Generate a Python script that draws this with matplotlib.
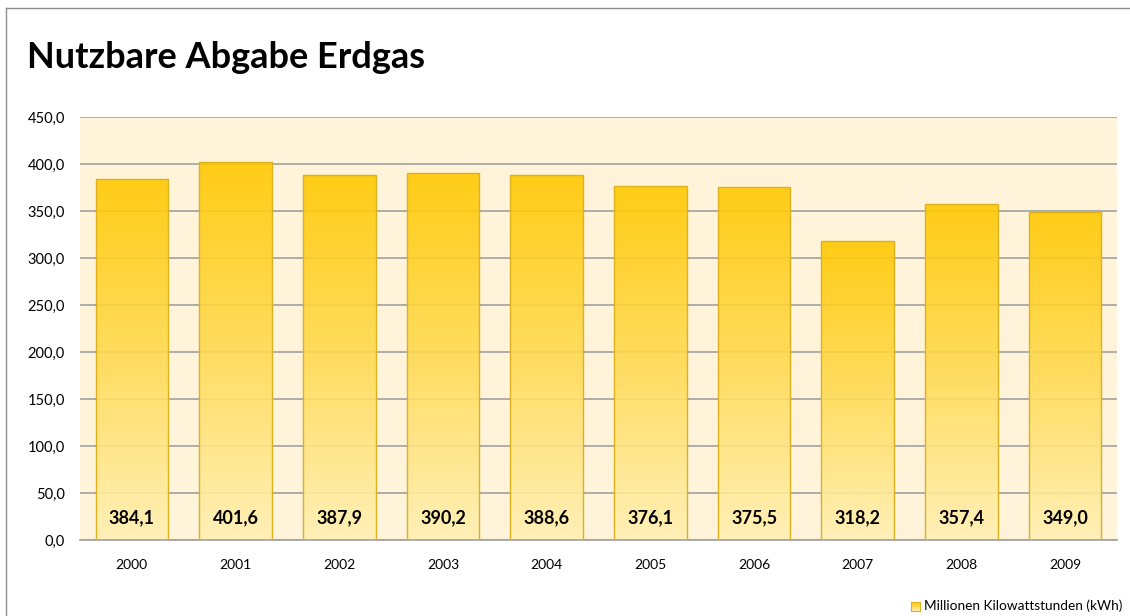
import numpy as np
import matplotlib.pyplot as plt
from matplotlib.lines import Line2D
from matplotlib.colors import LinearSegmentedColormap

years = ['2000', '2001', '2002', '2003', '2004', '2005', '2006', '2007', '2008', '2009']
values = [384.1, 401.6, 387.9, 390.2, 388.6, 376.1, 375.5, 318.2, 357.4, 349.0]
title = 'Nutzbare Abgabe Erdgas'
legend_label = 'Millionen Kilowattstunden (kWh)'

plt.rcParams['font.family'] = ['Lato', 'DejaVu Sans']

W, H = 1130, 616
fig = plt.figure(figsize=(W / 100, H / 100), dpi=100)
fig.patch.set_facecolor('white')

# outer frame: only left and top edges fall inside the picture
fx, fy = 5.5 / W, 1 - 7.5 / H
fig.add_artist(Line2D([fx, fx], [0, fy], transform=fig.transFigure, color='#8c8c8c', lw=1))
fig.add_artist(Line2D([fx, 1], [fy, fy], transform=fig.transFigure, color='#8c8c8c', lw=1))

ax = fig.add_axes([80 / W, 1 - 540 / H, (1117 - 80) / W, (540 - 117) / H])
ax.set_facecolor('#fff4d9')

x = np.arange(len(years))
bars = ax.bar(x, values, width=0.70, facecolor='none', edgecolor='#dcb01e', linewidth=1, zorder=3)

cmap = LinearSegmentedColormap.from_list('gold', ['#fff0b4', '#ffda52', '#ffc800'])
grad = np.linspace(0, 1, 256).reshape(-1, 1)
for b in bars:
    bx, by = b.get_x(), b.get_y()
    bw, bh = b.get_width(), b.get_height()
    im = ax.imshow(grad, cmap=cmap, origin='lower', aspect='auto', alpha=0.9,
                   extent=(bx, bx + bw, by, by + bh), zorder=2)
    im.set_clip_path(b)

for xi, v in zip(x, values):
    ax.text(xi, 24, f'{v:.1f}'.replace('.', ','), ha='center', va='center',
            fontsize=13, fontweight='bold', color='black', zorder=4)

ax.set_xlim(-0.5, len(years) - 0.5)
ax.set_ylim(0, 450)
yt = np.arange(0, 451, 50)
ax.set_yticks(yt)
ax.set_yticklabels([f'{t:.1f}'.replace('.', ',') for t in yt], fontsize=10.5)
ax.set_xticks(x)
ax.set_xticklabels(years, fontsize=10)
ax.tick_params(axis='y', length=0, pad=11)
ax.tick_params(axis='x', length=0, pad=14)
ax.grid(axis='y', color='#a0a0a0', linewidth=1.2, zorder=1)
ax.set_axisbelow(True)
for s in ['top', 'right', 'left']:
    ax.spines[s].set_visible(False)
ax.spines['bottom'].set_color('#a0a0a0')
ax.spines['bottom'].set_linewidth(1.2)

fig.text(27 / W, 1 - 58 / H, title, fontsize=26, fontweight='bold', va='center', ha='left')

# legend
lax = fig.add_axes([911 / W, 1 - 611 / H, 9 / W, 9 / H])
lax.imshow(grad, cmap=cmap, origin='lower', aspect='auto', extent=(0, 1, 0, 1))
lax.set_xticks([])
lax.set_yticks([])
for s in lax.spines.values():
    s.set_color('#dcb01e')
fig.text(924 / W, 1 - 606 / H, legend_label, fontsize=9.8, va='center', ha='left')

fig.savefig('out.png', dpi=100)
